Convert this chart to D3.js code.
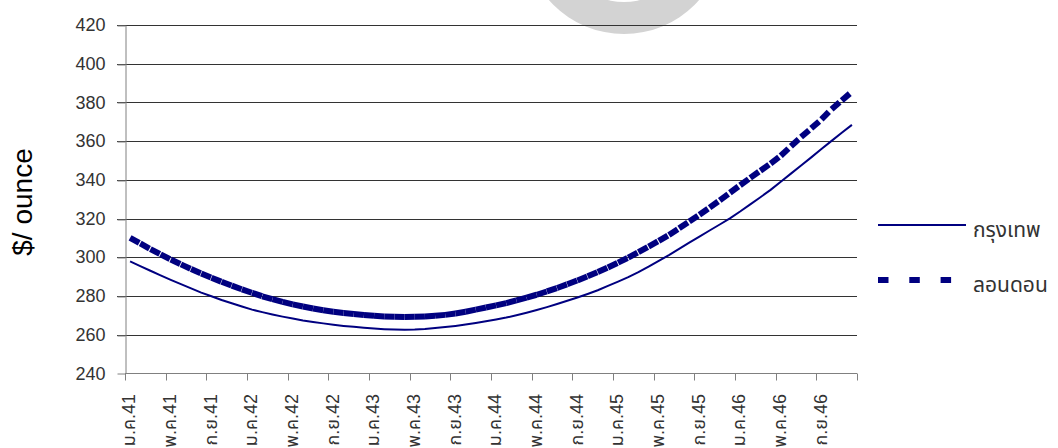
<!DOCTYPE html>
<html>
<head>
<meta charset="utf-8">
<script src="https://cdn.jsdelivr.net/npm/d3@7"></script>
<style>
  html, body { margin: 0; padding: 0; background: #fff; }
  svg { display: block; }
  text { font-family: "Liberation Sans", Arial, "Noto Sans Thai", Tahoma, sans-serif; }
</style>
</head>
<body>
<svg id="chart" width="1058" height="448"></svg>
<script>
// Monthly gold price, B.E. 2541–2546
const monthNames = ["ม.ค.", "ก.พ.", "มี.ค.", "เม.ย.", "พ.ค.", "มิ.ย.", "ก.ค.", "ส.ค.", "ก.ย.", "ต.ค.", "พ.ย.", "ธ.ค."];
const years = ["41", "42", "43", "44", "45", "46"];
const categories = years.flatMap(y => monthNames.map(m => m + y));

// Every fourth month carries a label
const labelStep = 4;

// กรุงเทพ (solid)
const bangkok = [
  297.8, 295.4, 293.0, 290.6, 288.3, 286.1, 283.9, 281.7, 279.8, 277.9,
  276.2, 274.5, 272.9, 271.6, 270.4, 269.3, 268.3, 267.3, 266.5, 265.8,
  265.1, 264.5, 264.0, 263.5, 263.1, 262.8, 262.6, 262.5, 262.6, 262.9,
  263.4, 263.9, 264.5, 265.2, 266.0, 266.9, 267.8, 268.8, 270.0, 271.3,
  272.7, 274.2, 275.8, 277.5, 279.2, 281.0, 282.9, 285.2, 287.4, 289.7,
  292.3, 295.1, 298.1, 301.1, 304.3, 307.5, 310.6, 313.8, 316.9, 320.1,
  323.6, 327.3, 331.0, 334.8, 339.0, 343.2, 347.4, 351.6, 355.9, 360.1,
  364.3, 368.4
];

// ลอนดอน (dashed)
const london = [
  310.0, 307.1, 304.2, 301.5, 298.8, 296.3, 293.9, 291.6, 289.4, 287.3,
  285.3, 283.4, 281.6, 279.8, 278.3, 276.9, 275.6, 274.5, 273.5, 272.6,
  271.8, 271.2, 270.6, 270.1, 269.7, 269.4, 269.2, 269.1, 269.2, 269.4,
  269.7, 270.2, 270.9, 271.8, 272.9, 274.0, 275.1, 276.3, 277.7, 279.1,
  280.6, 282.3, 284.1, 286.0, 288.0, 290.1, 292.3, 294.7, 297.2, 299.8,
  302.6, 305.5, 308.4, 311.5, 314.9, 318.4, 321.9, 325.6, 329.4, 333.3,
  337.2, 341.0, 344.7, 348.4, 352.4, 357.3, 362.1, 366.6, 371.2, 376.5,
  381.0, 385.5
];

const seriesNames = ["กรุงเทพ", "ลอนดอน"];
const yTicks = [240, 260, 280, 300, 320, 340, 360, 380, 400, 420];
const yTitle = "$/ ounce";

// ---- layout ----
const plot = { left: 125, right: 857, top: 25, bottom: 373.3 };
const navy = "#000080";
const gridColor = "#333333";
const axisColor = "#808080";
const textColor = "#333333";

const svg = d3.select("#chart");

const x = d3.scaleBand().domain(categories).range([plot.left, plot.right]).paddingInner(0).paddingOuter(0);
const y = d3.scaleLinear().domain([240, 420]).range([plot.bottom, plot.top]);
const cx = c => x(c) + x.bandwidth() / 2;

// decorative grey ring behind the chart
const ring = d3.arc().innerRadius(68).outerRadius(100).startAngle(0).endAngle(2 * Math.PI);
svg.append("path")
  .attr("d", ring())
  .attr("transform", "translate(624,-66)")
  .attr("fill", "#d3d3d3");

// horizontal gridlines (extend left past the axis as ticks)
svg.append("g")
  .selectAll("line")
  .data(yTicks.slice(1))
  .join("line")
  .attr("x1", plot.left - 8)
  .attr("x2", plot.right)
  .attr("y1", d => Math.round(y(d)) + 0.5)
  .attr("y2", d => Math.round(y(d)) + 0.5)
  .attr("stroke", gridColor)
  .attr("stroke-width", 1);

// y axis
const yAxis = svg.append("g")
  .attr("transform", `translate(${plot.left + 0.5},0)`)
  .call(d3.axisLeft(y).tickValues(yTicks).tickSize(8).tickPadding(12).tickSizeOuter(0));
yAxis.select(".domain").attr("stroke", axisColor);
yAxis.selectAll(".tick line").attr("stroke", axisColor)
  .attr("transform", d => `translate(0,${Math.round(y(d)) + 0.5 - y(d)})`);
yAxis.selectAll(".tick text")
  .attr("fill", textColor)
  .style("font-size", "18px")
  .style("font-family", "'Liberation Sans', Arial, sans-serif");

// x axis line and ticks at category boundaries
const xAxisY = Math.round(plot.bottom) + 0.5;
const gx = svg.append("g");
gx.append("line")
  .attr("x1", plot.left).attr("x2", plot.right)
  .attr("y1", xAxisY).attr("y2", xAxisY)
  .attr("stroke", axisColor);
const tickCats = categories.filter((c, i) => i % labelStep === 0);
const tickXs = tickCats.map(c => x(c)).concat([x(categories[categories.length - 1]) + x.bandwidth()]);
gx.selectAll("line.tick")
  .data(tickXs)
  .join("line")
  .attr("class", "tick")
  .attr("x1", d => Math.round(d) + 0.5).attr("x2", d => Math.round(d) + 0.5)
  .attr("y1", xAxisY).attr("y2", xAxisY + 7)
  .attr("stroke", axisColor);
gx.selectAll("text")
  .data(tickCats)
  .join("text")
  .attr("transform", d => `translate(${cx(d) - 1},394) rotate(-90)`)
  .attr("text-anchor", "end")
  .attr("dy", "0.35em")
  .attr("fill", textColor)
  .style("font-size", "18px")
  .text(d => d);

// y axis title
svg.append("text")
  .attr("transform", "translate(22,202) rotate(-90)")
  .attr("text-anchor", "middle")
  .attr("dy", "0.35em")
  .attr("fill", "#000")
  .style("font-size", "28px")
  .style("font-family", "'Liberation Sans', Arial, sans-serif")
  .text(yTitle);

// ---- series ----
const line = d3.line().x(d => cx(d.c)).y(d => y(d.v));
const bkkPts = categories.map((c, i) => ({ c, v: bangkok[i] }));
const lonPts = categories.map((c, i) => ({ c, v: london[i] }));

svg.append("path")
  .datum(bkkPts)
  .attr("d", line)
  .attr("fill", "none")
  .attr("stroke", navy)
  .attr("stroke-width", 2)
  .attr("stroke-linejoin", "round");

// dashed series: the dash pattern restarts on every month-to-month segment
svg.append("g")
  .selectAll("path")
  .data(d3.pairs(lonPts))
  .join("path")
  .attr("d", d => line(d))
  .attr("fill", "none")
  .attr("stroke", navy)
  .attr("stroke-width", 6)
  .attr("stroke-linecap", "butt")
  .attr("stroke-dasharray", "10.5,20");

// ---- legend ----
const legend = svg.append("g");
legend.append("line")
  .attr("x1", 878).attr("x2", 966).attr("y1", 225).attr("y2", 225)
  .attr("stroke", navy).attr("stroke-width", 2);
legend.append("text")
  .attr("x", 973).attr("y", 237)
  .attr("fill", textColor)
  .style("font-size", "21px")
  .text(seriesNames[0]);
legend.append("line")
  .attr("x1", 878).attr("x2", 966).attr("y1", 280).attr("y2", 280)
  .attr("stroke", navy).attr("stroke-width", 6)
  .attr("stroke-dasharray", "10.5,20.8");
legend.append("text")
  .attr("x", 973).attr("y", 292)
  .attr("fill", textColor)
  .style("font-size", "21px")
  .text(seriesNames[1]);
</script>
</body>
</html>
